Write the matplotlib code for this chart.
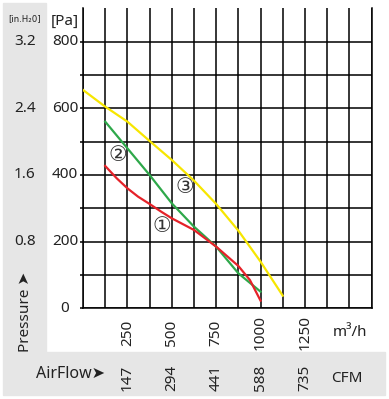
import matplotlib
matplotlib.use('Agg')
import matplotlib.pyplot as plt
from matplotlib.patches import Rectangle
import matplotlib.transforms as mtransforms

# curvas de ventilador (caudal m3/h, presion Pa)
q_amarillo = [0, 125, 250, 375, 500, 625, 750, 875, 1000, 1125]
p_amarillo = [655, 605, 560, 502, 445, 383, 313, 233, 140, 38]

q_verde = [125, 250, 375, 500, 625, 750, 875, 1000]
p_verde = [560, 480, 400, 315, 245, 185, 105, 50]

q_rojo = [125, 190, 250, 310, 375, 440, 500, 625, 700, 750, 875, 940, 1000]
p_rojo = [427, 390, 360, 335, 313, 290, 270, 235, 205, 185, 127, 85, 23]

pa_ticks = [0, 200, 400, 600, 800]
inh2o_labels = ['', '0.8', '1.6', '2.4', '3.2']
m3h_ticks = [250, 500, 750, 1000, 1250]
cfm_labels = ['147', '294', '441', '588', '735']

etiquetas = ['①', '②', '③']
etiq_q = [445, 197, 572]
etiq_p = [248, 460, 365]

fuentes = ['Noto Sans', 'DejaVu Sans', 'Noto Sans CJK JP']
plt.rcParams['font.family'] = fuentes

W, H = 389, 399
fig = plt.figure(figsize=(W / 100, H / 100), dpi=100)

# fondos grises
gris = '#e6e6e6'
fig.patches.append(Rectangle((3 / W, 1 - 352 / H), 43 / W, 349 / H,
                             transform=fig.transFigure, color=gris, zorder=-5))
fig.patches.append(Rectangle((3 / W, 1 - 395 / H), 382 / W, 43 / H,
                             transform=fig.transFigure, color=gris, zorder=-5))

x0, x1, y0, y1 = 83, 371.5, 308.3, 8.3
ax = fig.add_axes([x0 / W, 1 - y0 / H, (x1 - x0) / W, (y0 - y1) / H])
ax.patch.set_alpha(0)
ax.set_xlim(0, 1625)
ax.set_ylim(0, 900)
ax.set_xticks(range(0, 1626, 125))
ax.set_yticks(range(0, 801, 100))
ax.grid(True, color='black', linewidth=1.1)
ax.tick_params(labelleft=False, labelbottom=False, length=0)
ax.tick_params(axis='y', length=2, width=1.1)
ax.spines['top'].set_visible(False)
for s in ['left', 'right', 'bottom']:
    ax.spines[s].set_linewidth(1.1)

ax.plot(q_amarillo, p_amarillo, color='#f7e600', linewidth=1.6, zorder=3)
ax.plot(q_verde, p_verde, color='#2ea84a', linewidth=1.6, zorder=3)
ax.plot(q_rojo, p_rojo, color='#e52229', linewidth=1.6, zorder=4)

for t, q, p in zip(etiquetas, etiq_q, etiq_p):
    ax.text(q, p, t, fontsize=15, ha='center', va='center', color='#333333',
            zorder=5, family=['DejaVu Sans', 'Noto Sans CJK JP'])

def ax_x(px):
    return (px - x0) / (x1 - x0)

def ax_y(py):
    return (y0 - py) / (y0 - y1)

tr_y = mtransforms.blended_transform_factory(ax.transAxes, ax.transData)
tr_x = mtransforms.blended_transform_factory(ax.transData, ax.transAxes)
fs = 11
col = '#222222'

for p, lab in zip(pa_ticks, inh2o_labels):
    ax.text(ax_x(65), p, str(p), transform=tr_y, ha='center', va='center',
            fontsize=fs, color=col)
    if lab:
        ax.text(ax_x(25), p, lab, transform=tr_y, ha='center', va='center',
                fontsize=fs, color=col)

ax.text(ax_x(65), ax_y(21), '[Pa]', transform=ax.transAxes, ha='center',
        va='center', fontsize=fs, color=col)
ax.text(ax_x(24.5), ax_y(19), '[in.H₂0]', transform=ax.transAxes, ha='center',
        va='center', fontsize=6.8, color=col, family='DejaVu Sans',
        fontstretch='condensed')
ax.text(ax_x(25), ax_y(312), 'Pressure ➤', transform=ax.transAxes,
        rotation=90, ha='center', va='center', fontsize=fs, color=col)

for q, lab in zip(m3h_ticks, cfm_labels):
    ax.text(q, ax_y(333), str(q), transform=tr_x, rotation=90, ha='center',
            va='center', fontsize=fs, color=col)
    ax.text(q, ax_y(378), lab, transform=tr_x, rotation=90, ha='center',
            va='center', fontsize=fs, color=col)

ax.text(ax_x(350), ax_y(333), 'm³/h', transform=ax.transAxes, ha='center',
        va='center', fontsize=fs, color=col)
ax.text(ax_x(347), ax_y(378), 'CFM', transform=ax.transAxes, ha='center',
        va='center', fontsize=fs, color=col)
ax.text(ax_x(71), ax_y(374), 'AirFlow➤', transform=ax.transAxes,
        ha='center', va='center', fontsize=11.5, color=col)

plt.savefig('out.png', dpi=100)
